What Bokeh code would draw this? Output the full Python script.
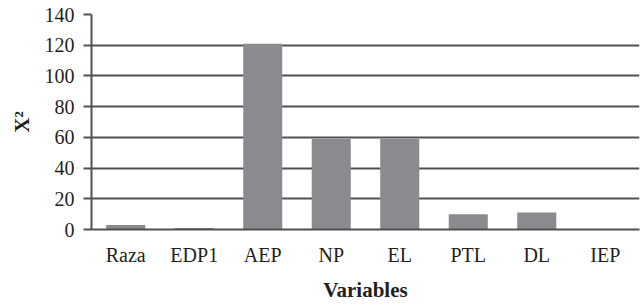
from bokeh.plotting import figure
from bokeh.models import ColumnDataSource, Range1d
from bokeh.embed import file_html
from bokeh.resources import INLINE

categories = ["Raza", "EDP1", "AEP", "NP", "EL", "PTL", "DL", "IEP"]
chi2 = [3, 1, 121, 59, 59, 10, 11, 0.2]
y_ticks = [0, 20, 40, 60, 80, 100, 120, 140]

src = ColumnDataSource(dict(cat=categories, val=chi2))

p = figure(x_range=categories, y_range=Range1d(0, 140), width=642, height=306,
           output_backend="svg", toolbar_location=None,
           min_border_left=91, min_border_right=3, min_border_top=14, min_border_bottom=77)
p.outline_line_color = None
p.background_fill_color = "white"
p.border_fill_color = "white"

p.vbar(x="cat", top="val", width=0.57, source=src, fill_color="#8a8b8f", line_color=None)

FONT = "Liberation Serif"
GRID = "#505050"

p.yaxis.ticker = y_ticks
p.ygrid.grid_line_color = GRID
p.ygrid.grid_line_width = 2
p.xgrid.grid_line_color = None

p.yaxis.axis_line_color = GRID
p.yaxis.axis_line_width = 2
p.yaxis.major_tick_line_color = GRID
p.yaxis.major_tick_line_width = 2
p.yaxis.major_tick_out = 8
p.yaxis.major_tick_in = 0
p.yaxis.minor_tick_line_color = None
p.yaxis.major_label_text_font = FONT
p.yaxis.major_label_text_font_size = "20px"
p.yaxis.major_label_text_color = "#231f20"
p.yaxis.major_label_standoff = 9
p.yaxis.axis_label = "X²"
p.yaxis.axis_label_text_font = FONT
p.yaxis.axis_label_text_font_style = "bold"
p.yaxis.axis_label_text_font_size = "21px"
p.yaxis.axis_label_text_color = "#231f20"
p.yaxis.axis_label_standoff = 8

p.xaxis.axis_line_color = GRID
p.xaxis.axis_line_width = 2
p.xaxis.major_tick_line_color = None
p.xaxis.minor_tick_line_color = None
p.xaxis.major_label_text_font = FONT
p.xaxis.major_label_text_font_size = "20px"
p.xaxis.major_label_text_color = "#231f20"
p.xaxis.major_label_standoff = 8
p.xaxis.axis_label = "Variables"
p.xaxis.axis_label_text_font = FONT
p.xaxis.axis_label_text_font_style = "bold"
p.xaxis.axis_label_text_font_size = "21px"
p.xaxis.axis_label_text_color = "#231f20"
p.xaxis.axis_label_standoff = 9

open("out.html", "w").write(file_html(p, INLINE))
